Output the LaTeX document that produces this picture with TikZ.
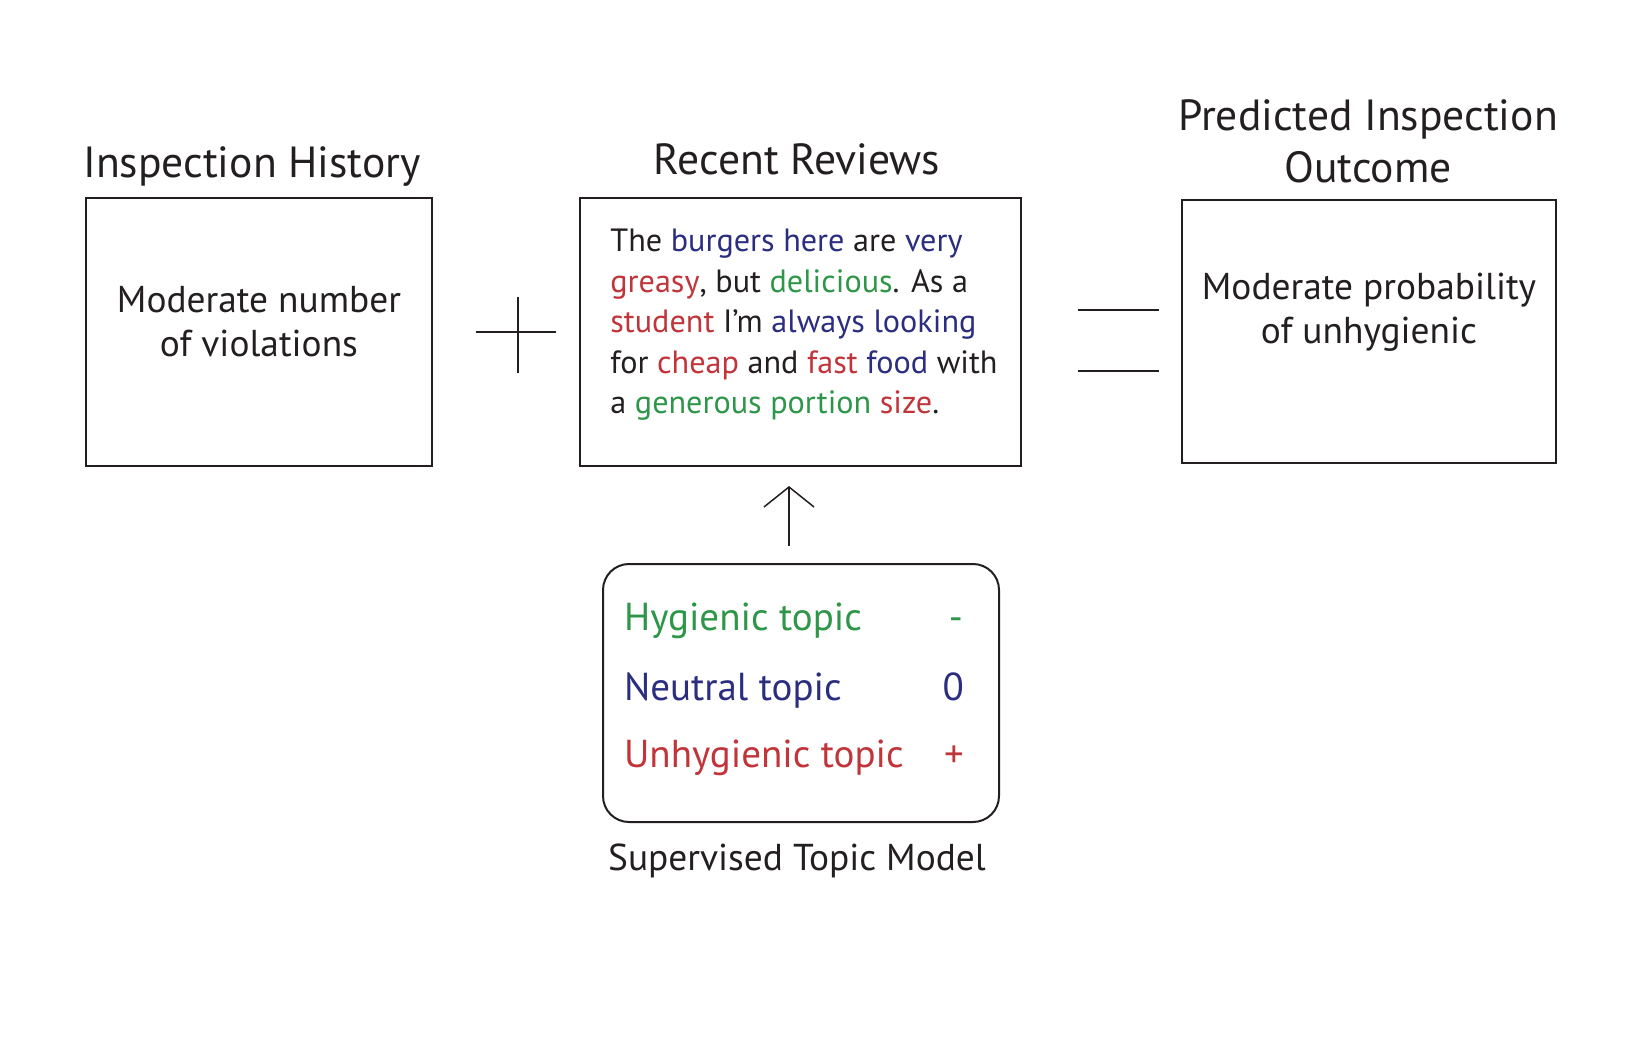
\documentclass[tikz,border=0pt]{standalone}
\usepackage{fontspec}
\setmainfont{PT Sans}
\usepackage{tikz}
\usetikzlibrary{positioning,arrows.meta}

\definecolor{ink}{RGB}{35,31,32}
\definecolor{hyg}{RGB}{46,150,72}
\definecolor{neu}{RGB}{43,46,127}
\definecolor{unh}{RGB}{193,53,58}
\newcommand{\hyg}[1]{\textcolor{hyg}{#1}}
\newcommand{\neu}[1]{\textcolor{neu}{#1}}
\newcommand{\unh}[1]{\textcolor{unh}{#1}}

\begin{document}
\begin{tikzpicture}[x=0.5pt,y=-0.5pt,
  every node/.style={text=ink},
  box/.style={draw=ink,line width=1pt,inner sep=0pt},
  heading/.style={font=\fontsize{21.8}{26}\selectfont,align=center},
  boxtext/.style={font=\fontsize{18.7}{22}\selectfont,align=center},
  topic/.style={font=\fontsize{19.5}{22}\selectfont,anchor=base west},
  weight/.style={font=\fontsize{19.5}{22}\selectfont,anchor=base east},
  sign/.style={draw=ink,line width=0.75pt},
  uparrow/.style={draw=ink,line width=0.75pt,-{Straight Barb[length=10pt,width=25pt]},
    shorten <=8.5pt,shorten >=9.5pt}]
\useasboundingbox (0,0) rectangle (1650,1050);

% boxes
\node [box,minimum width=173pt,minimum height=134pt] (history) at (259,332) {};
\node [box,minimum width=220.5pt,minimum height=134pt] (review) at (800.5,332) {};
\node [box,minimum width=187pt,minimum height=131.5pt] (outcome) at (1369,331.5) {};
\node [box,rounded corners=13pt,minimum width=198pt,minimum height=129pt] (model) at (801,693) {};

% headings
\node [heading,anchor=base] (historytitle) at (252,177) {Inspection History};
\node [heading,anchor=base] (reviewtitle) at (797,174) {Recent Reviews};
\node [heading,anchor=south] (outcometitle) at (1368,190) {Predicted Inspection\\Outcome};
\node [boxtext,anchor=base] (modeltitle) at (797,870) {Supervised Topic Model};

% contents
\node [boxtext] (historytext) at (259,322) {Moderate number\\of violations};
\node [boxtext] (outcometext) at (1369,312) {Moderate probability\\of unhygienic};
\node [anchor=north west,align=left,inner sep=0pt,
  font=\fontsize{16.1}{20.2}\selectfont] (reviewtext) at (610,229)
  {The \neu{burgers here} are \neu{very}\\
   \unh{greasy}, but \hyg{delicious}. As a\\
   \unh{student} I'm \neu{always looking}\\
   for \unh{cheap} and \unh{fast} \neu{food} with\\
   a \hyg{generous portion} \unh{size}.};

\node [topic,text=hyg] (hygienic) at (617,630) {Hygienic topic};
\node [topic,text=neu] (neutral) at (617,700) {Neutral topic};
\node [topic,text=unh] (unhygienic) at (617,767) {Unhygienic topic};
\node [weight,text=hyg] (hygw) at (970,630) {-};
\node [weight,text=neu] (neuw) at (971,700) {0};
\node [weight,text=unh] (unhw) at (971,767) {+};

% plus and equals
\draw [sign] (476,332) -- (556,332);
\draw [sign] (518,297) -- (518,373);
\draw [sign] (1078,310) -- (1159,310);
\draw [sign] (1078,371) -- (1159,371);

% model feeds the reviews
\coordinate (ax) at (789,0);
\draw [uparrow] (model.north -| ax) -- (review.south -| ax);
\end{tikzpicture}
\end{document}
